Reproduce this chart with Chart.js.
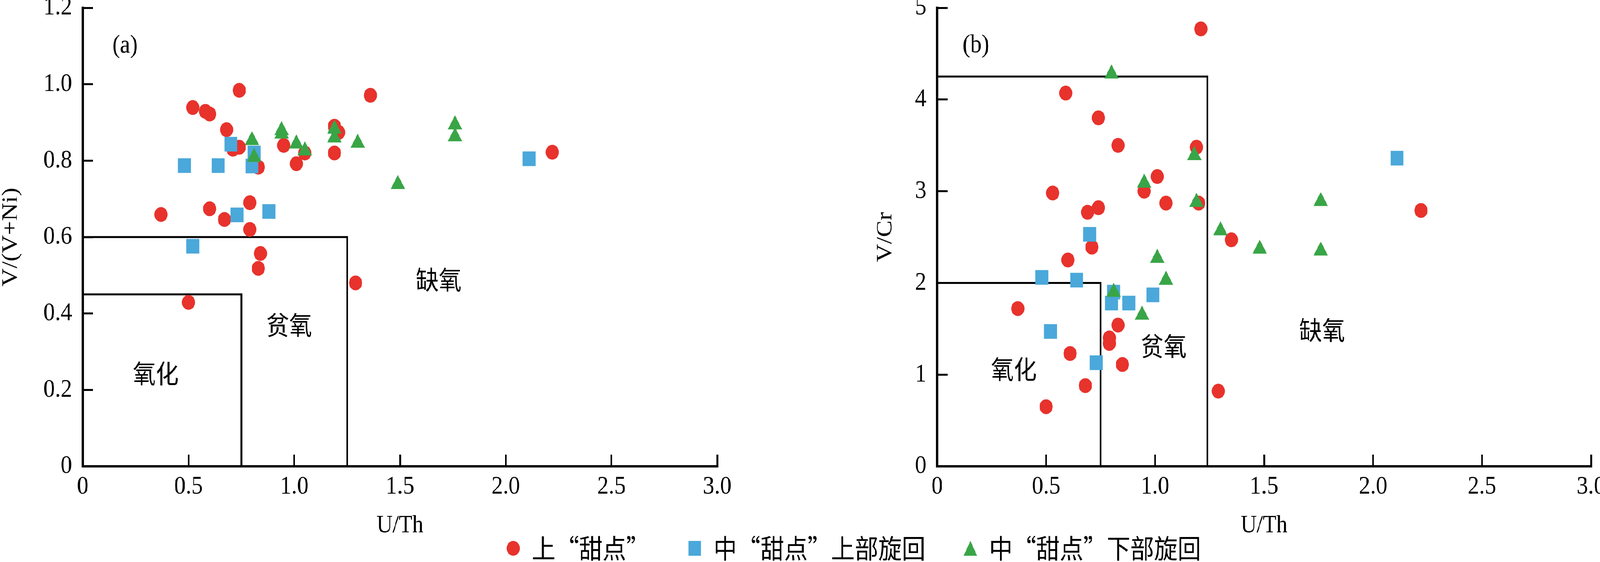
<!DOCTYPE html>
<html>
<head>
<meta charset="utf-8">
<script src="https://cdn.jsdelivr.net/npm/chart.js@4.4.1/dist/chart.umd.min.js"></script>
<style>
  html, body { margin: 0; padding: 0; background: #fff; overflow: hidden; }
  #outer { position: relative; width: 100vw; height: 100vh; overflow: hidden; background: #fff; }
  #wrap { position: absolute; left: 0; top: 0; width: 4620px; height: 1439px; overflow: hidden; background: #fff; transform-origin: 0 0; }
  canvas { position: absolute; }
</style>
</head>
<body>
<div id="outer">
<div id="wrap">
  <canvas id="chart-a" width="2171" height="1520" style="left:0;top:-81px;width:2171px;height:1520px"></canvas>
  <canvas id="chart-b" width="2169" height="1520" style="left:2525px;top:-81px;width:2169px;height:1520px"></canvas>
  <canvas id="chart-legend" width="2400" height="400" style="left:1265px;top:1260px;width:2400px;height:400px"></canvas>
</div>
</div>
<script>
// the figure is laid out at 4620x1439; stretch it onto the actual viewport
(function fit() {
  const sx = window.innerWidth / 4620, sy = window.innerHeight / 1439;
  document.getElementById('wrap').style.transform = `scale(${sx}, ${sy})`;
})();

// Series
const SERIES = ['上“甜点”', '中“甜点”上部旋回', '中“甜点”下部旋回'];
const COLORS = ['#e8322c', '#4aa8da', '#39a547'];

// Panel (a): U/Th vs V/(V+Ni)
const upperA_x = [0.52, 0.58, 0.60, 0.74, 0.68, 0.71, 0.74, 0.95, 1.01, 1.05, 1.19, 1.21, 1.19, 1.36, 0.83,
                  0.37, 0.60, 0.67, 0.79, 0.79, 0.84, 0.83, 1.29, 0.50, 2.22];
const upperA_y = [0.939, 0.929, 0.922, 0.984, 0.881, 0.830, 0.835, 0.840, 0.792, 0.820, 0.890, 0.874, 0.820, 0.971, 0.783,
                  0.659, 0.674, 0.646, 0.690, 0.620, 0.557, 0.518, 0.480, 0.429, 0.822];
const midUpA_x  = [0.70, 0.81, 0.80, 0.48, 0.64, 0.73, 0.88, 0.52, 2.11];
const midUpA_y  = [0.843, 0.820, 0.786, 0.787, 0.787, 0.658, 0.667, 0.576, 0.805];
const midLowA_x = [0.80, 0.81, 0.94, 0.94, 1.01, 1.05, 1.19, 1.19, 1.30, 1.49, 1.76, 1.76];
const midLowA_y = [0.853, 0.809, 0.879, 0.870, 0.844, 0.826, 0.883, 0.860, 0.846, 0.738, 0.894, 0.863];

// Panel (b): U/Th vs V/Cr
const upperB_x = [1.21, 0.59, 0.74, 0.83, 1.19, 1.01, 0.95, 0.53, 1.05, 1.20, 0.74, 0.69, 0.71, 0.60, 0.37,
                  0.83, 0.79, 0.79, 0.61, 0.85, 0.68, 0.50, 1.29, 1.35, 2.22];
const upperB_y = [4.77, 4.07, 3.80, 3.50, 3.48, 3.16, 3.00, 2.98, 2.87, 2.87, 2.82, 2.77, 2.39, 2.25, 1.72,
                  1.54, 1.40, 1.34, 1.23, 1.11, 0.88, 0.65, 0.82, 2.47, 2.79];
const midUpB_x  = [0.70, 0.48, 0.64, 0.81, 0.80, 0.88, 0.99, 0.52, 0.73, 2.11];
const midUpB_y  = [2.53, 2.06, 2.03, 1.90, 1.78, 1.78, 1.87, 1.47, 1.13, 3.36];
const midLowB_x = [0.80, 1.18, 0.95, 1.19, 1.30, 1.48, 1.01, 1.05, 0.81, 0.94, 1.76, 1.76];
const midLowB_y = [4.28, 3.39, 3.09, 2.88, 2.57, 2.37, 2.27, 2.03, 1.90, 1.65, 2.89, 2.35];

// Redox boundaries (oxic / dysoxic / anoxic)
const oxicA_x   = [0, 0.75, 0.75];  const oxicA_y   = [0.45, 0.45, 0];
const dysoxA_x  = [0, 1.25, 1.25];  const dysoxA_y  = [0.6, 0.6, 0];
const oxicB_x   = [0, 0.75, 0.75];  const oxicB_y   = [2.0, 2.0, 0];
const dysoxB_x  = [0, 1.24, 1.24];  const dysoxB_y  = [4.25, 4.25, 0];

// Ticks
const xTicks  = [0, 0.5, 1.0, 1.5, 2.0, 2.5, 3.0];
const xLabels = ['0', '0.5', '1.0', '1.5', '2.0', '2.5', '3.0'];
const yTicksA  = [0, 0.2, 0.4, 0.6, 0.8, 1.0, 1.2];
const yLabelsA = ['0', '0.2', '0.4', '0.6', '0.8', '1.0', '1.2'];
const yTicksB  = [0, 1, 2, 3, 4, 5];
const yLabelsB = ['0', '1', '2', '3', '4', '5'];

const SERIF = "'Liberation Serif', 'Times New Roman', serif";
const CJK = "'Noto Sans CJK SC', sans-serif";

Chart.defaults.color = '#000';
Chart.defaults.font.family = SERIF;

const pts = (xs, ys) => xs.map((v, i) => ({ x: v, y: ys[i] }));

// text labels placed in data units through the chart's scales
const zoneLabels = {
  id: 'zoneLabels',
  afterDatasetsDraw(chart, args, opts) {
    const { ctx, scales: { x, y } } = chart;
    ctx.save();
    ctx.fillStyle = '#000';
    ctx.textAlign = 'center';
    ctx.textBaseline = 'middle';
    (opts.items || []).forEach(it => {
      ctx.font = it.font;
      ctx.fillText(it.text, x.getPixelForValue(it.x), y.getPixelForValue(it.y));
    });
    ctx.restore();
  },
};

function markerSets(up, mu, ml) {
  return [
    { label: SERIES[2], data: pts(ml[0], ml[1]), pointStyle: 'triangle', pointRadius: 24,
      backgroundColor: COLORS[2], pointBorderWidth: 0, order: 1 },
    { label: SERIES[1], data: pts(mu[0], mu[1]), pointStyle: 'rect', pointRadius: 26.5,
      backgroundColor: COLORS[1], pointBorderWidth: 0, order: 2 },
    { label: SERIES[0], data: pts(up[0], up[1]), pointStyle: 'circle', pointRadius: 19,
      backgroundColor: COLORS[0], pointBorderWidth: 0, order: 3 },
  ];
}

function boundary(xs, ys) {
  return { data: pts(xs, ys), showLine: true, pointRadius: 0, borderColor: '#000',
           borderWidth: 5, borderJoinStyle: 'miter', fill: false, order: 4 };
}

function axes(yTicks, yLabels, yMax, yTitle, yWidth) {
  const grid = { drawOnChartArea: false, drawTicks: true, tickLength: -30, tickWidth: 5, tickColor: '#000' };
  const border = { display: true, color: '#000', width: 6 };
  return {
    x: {
      type: 'linear', min: 0, max: 3,
      afterBuildTicks: s => { s.ticks = xTicks.map(v => ({ value: v })); },
      afterFit: s => { s.height = 184; },
      ticks: { padding: 43, maxRotation: 0, autoSkip: false, font: { family: SERIF, size: 66 },
               callback: (v, i) => xLabels[i] },
      grid, border,
      title: { display: true, text: 'U/Th', padding: 0, font: { family: SERIF, size: 64, lineHeight: 1 } },
    },
    y: {
      type: 'linear', min: 0, max: yMax,
      afterBuildTicks: s => { s.ticks = yTicks.map(v => ({ value: v })); },
      afterFit: s => { s.width = yWidth; },
      ticks: { padding: 61, autoSkip: false, font: { family: SERIF, size: 66 },
               callback: (v, i) => yLabels[i] },
      grid, border,
      title: { display: true, text: yTitle, padding: 0, font: { family: SERIF, size: 64, lineHeight: 1 } },
    },
  };
}

// chart area sits ~101px below the canvas top (label half height + tick padding)
function panel(id, datasets, scales, labels) {
  return new Chart(document.getElementById(id), {
    type: 'scatter',
    data: { datasets },
    options: {
      responsive: false, animation: false, devicePixelRatio: 1, events: [],
      layout: { padding: { left: 0, top: 101, right: 100, bottom: 61 } },
      scales,
      plugins: { legend: { display: false }, tooltip: { enabled: false }, zoneLabels: { items: labels } },
    },
    plugins: [zoneLabels],
  });
}

const chartA = panel('chart-a',
  [...markerSets([upperA_x, upperA_y], [midUpA_x, midUpA_y], [midLowA_x, midLowA_y]),
   boundary(oxicA_x, oxicA_y), boundary(dysoxA_x, dysoxA_y)],
  axes(yTicksA, yLabelsA, 1.2, 'V/(V+Ni)', 239),
  [
    { text: '(a)',  x: 0.20,  y: 1.10,  font: `66px ${SERIF}` },
    { text: '氧化', x: 0.345, y: 0.243, font: `66px ${CJK}` },
    { text: '贫氧', x: 0.976, y: 0.37,  font: `66px ${CJK}` },
    { text: '缺氧', x: 1.683, y: 0.489, font: `66px ${CJK}` },
  ]);

const chartB = panel('chart-b',
  [...markerSets([upperB_x, upperB_y], [midUpB_x, midUpB_y], [midLowB_x, midLowB_y]),
   boundary(oxicB_x, oxicB_y), boundary(dysoxB_x, dysoxB_y)],
  axes(yTicksB, yLabelsB, 5, 'V/Cr', 181),
  [
    { text: '(b)',  x: 0.178, y: 4.587, font: `66px ${SERIF}` },
    { text: '氧化', x: 0.352, y: 1.06,  font: `66px ${CJK}` },
    { text: '贫氧', x: 1.039, y: 1.31,  font: `66px ${CJK}` },
    { text: '缺氧', x: 1.766, y: 1.485, font: `66px ${CJK}` },
  ]);

// Legend markers as small images so each keeps its own size
function markerImage(style, color) {
  const c = document.createElement('canvas');
  c.width = 40; c.height = 40;
  const g = c.getContext('2d');
  g.fillStyle = color;
  g.beginPath();
  if (style === 'circle') g.arc(20, 20, 19, 0, Math.PI * 2);
  else if (style === 'rect') g.rect(1.5, 1, 37, 38);
  else { g.moveTo(20, 1); g.lineTo(39.5, 39); g.lineTo(0.5, 39); g.closePath(); }
  g.fill();
  return c;
}
const legendMarkers = [markerImage('circle', COLORS[0]), markerImage('rect', COLORS[1]), markerImage('triangle', COLORS[2])];

const chartLegend = new Chart(document.getElementById('chart-legend'), {
  type: 'scatter',
  data: { datasets: SERIES.map((s, i) => ({ label: s, data: [], backgroundColor: COLORS[i] })) },
  options: {
    responsive: false, animation: false, devicePixelRatio: 1, events: [],
    layout: { padding: 0 },
    scales: { x: { display: false }, y: { display: false } },
    plugins: {
      tooltip: { enabled: false },
      legend: {
        position: 'top',
        labels: {
          usePointStyle: true, boxWidth: 40, boxHeight: 40, padding: 110, color: '#000',
          font: { family: CJK, size: 68 },
          generateLabels: chart => chart.data.datasets.map((ds, i) => ({
            text: ds.label, pointStyle: legendMarkers[i], fillStyle: ds.backgroundColor,
            strokeStyle: ds.backgroundColor, lineWidth: 0, hidden: false, datasetIndex: i, fontColor: '#000',
          })),
        },
      },
    },
  },
});
</script>
</body>
</html>
